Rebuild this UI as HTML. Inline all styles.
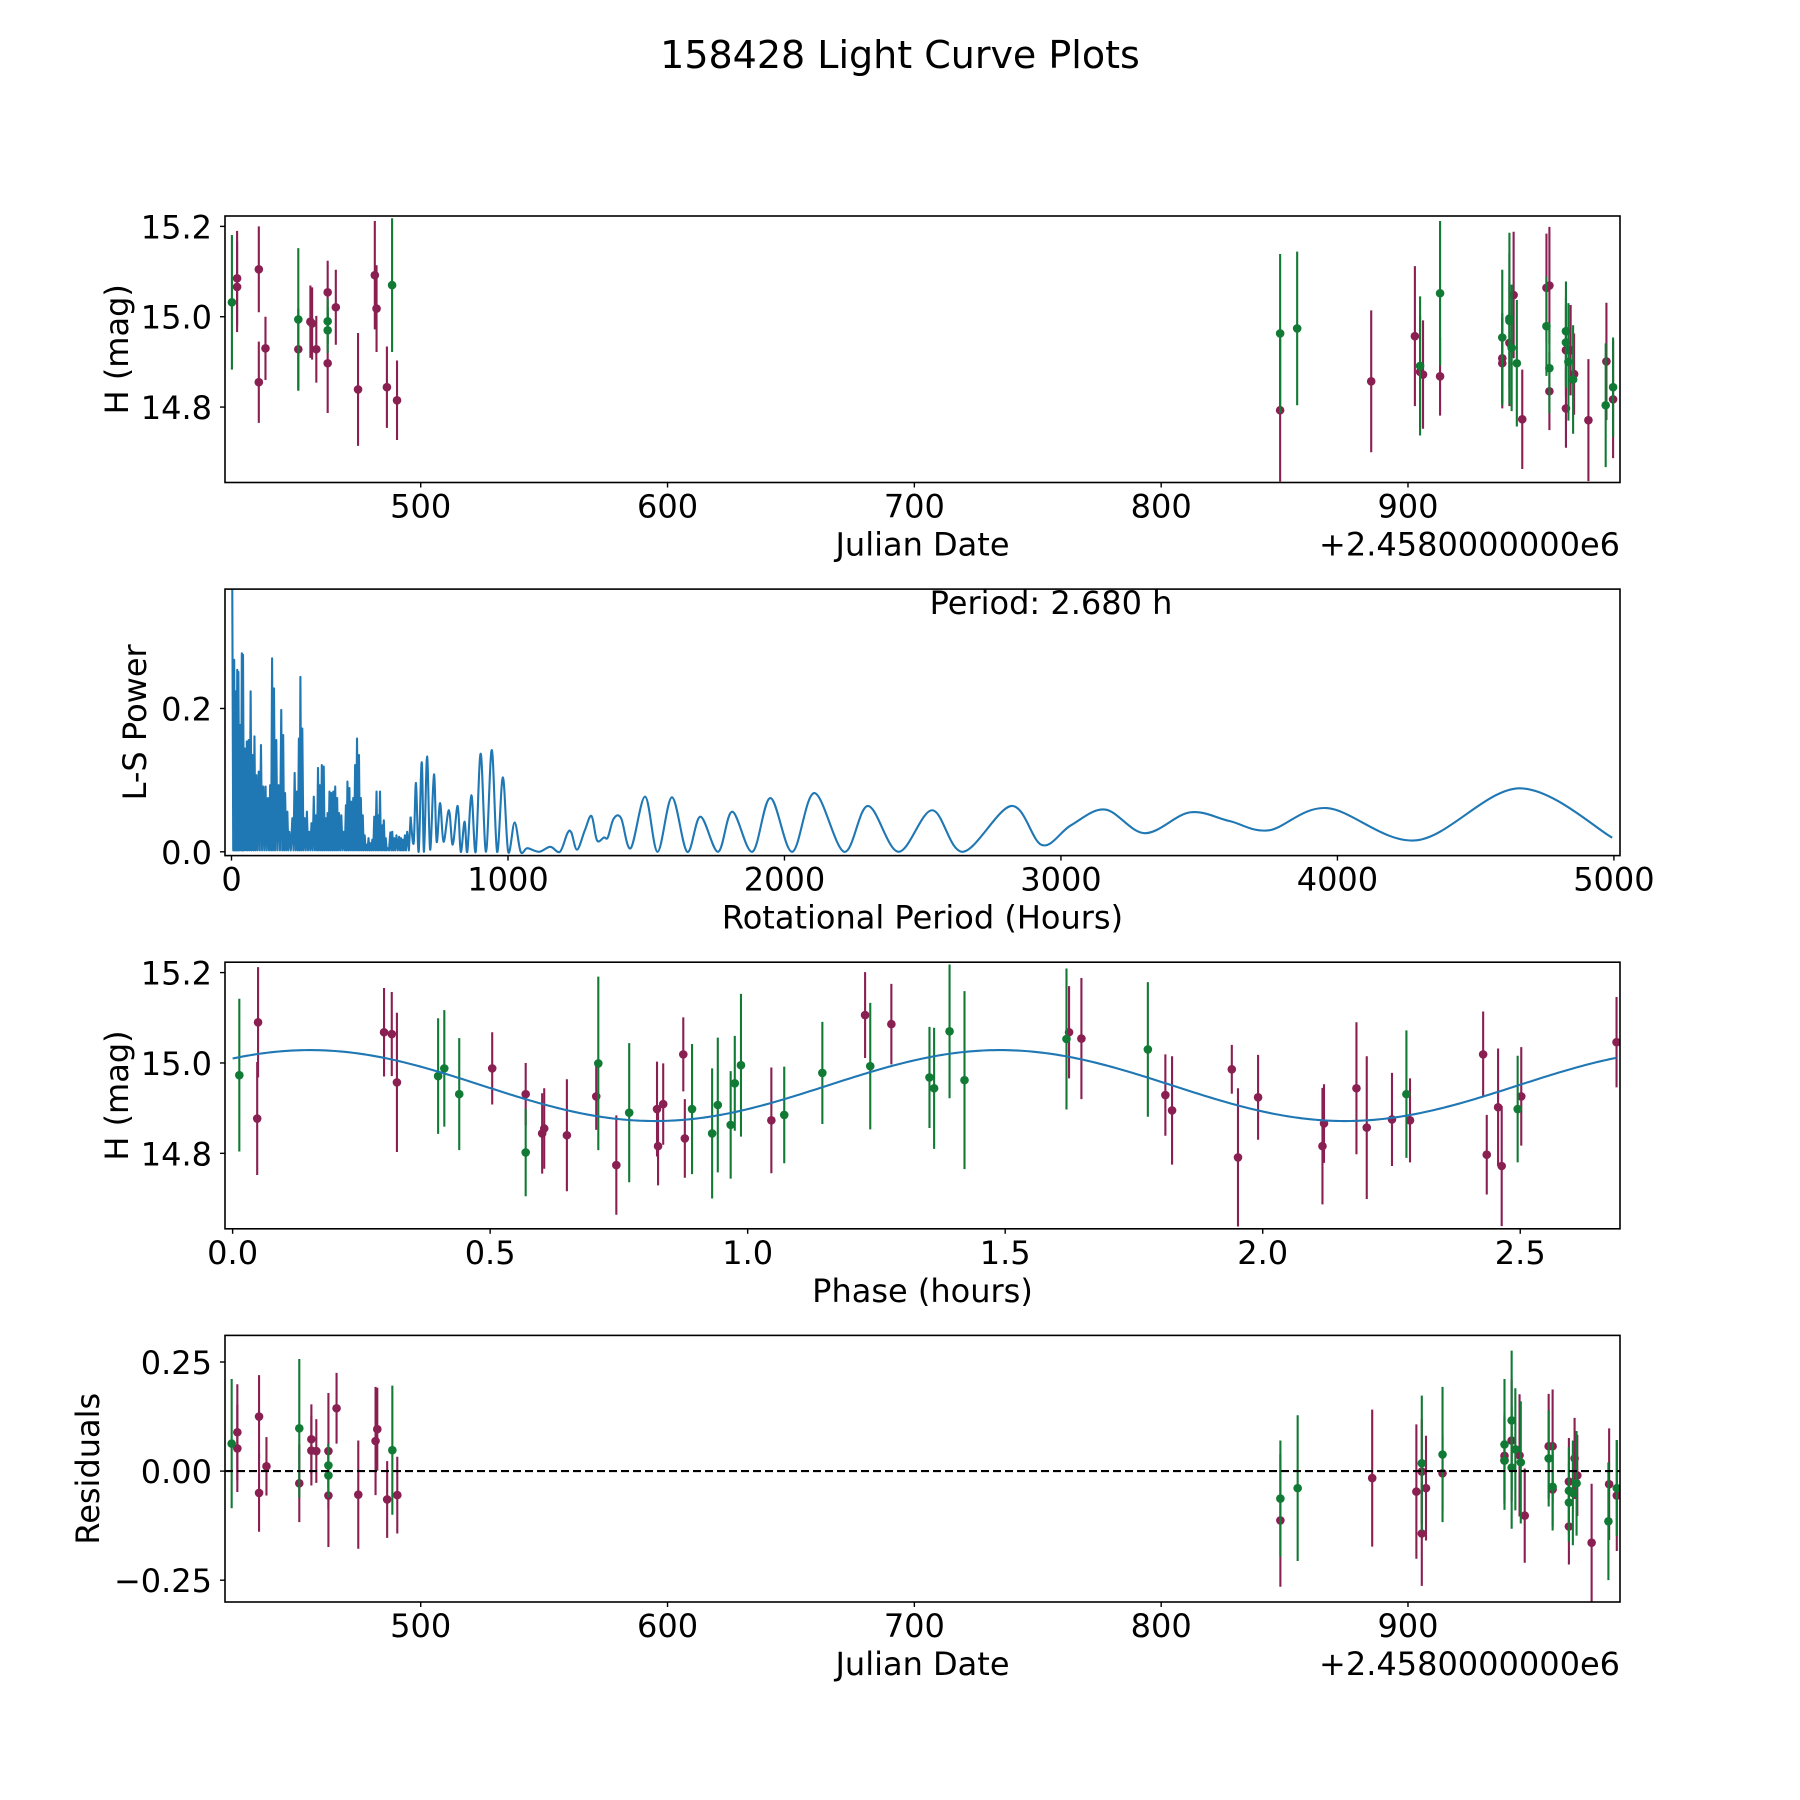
<!DOCTYPE html>
<html><head><meta charset="utf-8"><title>158428 Light Curve Plots</title>
<style>
html,body{margin:0;padding:0;background:#fff;}
svg{display:block;font-family:"DejaVu Sans","Liberation Sans",sans-serif;}
</style></head>
<body>
<svg id="fig" width="1800" height="1800" viewBox="0 0 1800 1800" xmlns="http://www.w3.org/2000/svg">
<rect width="1800" height="1800" fill="#fff"/>
<text x="900" y="68" font-size="38" text-anchor="middle">158428 Light Curve Plots</text>
</svg>
<script>
// ---------- Panel 1: light curve ----------
const lcDays = [423.5,425.6,425.6,434.4,434.4,437.1,450.4,450.4,455.3,456.0,457.7,462.3,462.3,462.3,462.3,465.6,474.6,481.4,482.1,486.3,488.4,490.4,
848.2,848.2,855.1,885.1,902.8,904.9,904.9,906.1,913.0,913.0,938.2,938.2,938.2,941.1,941.1,941.1,942.8,942.0,944.1,946.3,956.1,957.3,956.1,957.3,957.3,
964.0,964.0,964.0,964.0,965.9,965.0,967.3,966.9,973.1,980.4,980.1,983.1,983.1];
const lcMags = [15.032,15.085,15.066,15.105,14.855,14.93,14.994,14.928,14.989,14.985,14.928,15.054,14.99,14.97,14.897,15.021,14.839,15.092,15.018,14.844,15.07,14.815,
14.963,14.793,14.974,14.857,14.957,14.891,14.878,14.872,15.052,14.868,14.954,14.908,14.897,14.996,14.991,14.942,15.048,14.931,14.897,14.773,15.064,15.069,14.979,14.886,14.835,
14.968,14.943,14.926,14.797,14.926,14.9,14.873,14.861,14.771,14.901,14.804,14.844,14.817];
const lcErrs = [0.149,0.105,0.10,0.095,0.09,0.07,0.158,0.09,0.08,0.08,0.074,0.07,0.05,0.05,0.11,0.083,0.125,0.12,0.096,0.09,0.148,0.088,
0.176,0.158,0.17,0.157,0.155,0.154,0.125,0.12,0.16,0.087,0.15,0.1,0.1,0.19,0.15,0.14,0.14,0.14,0.14,0.11,0.12,0.13,0.11,0.1,0.086,
0.11,0.1,0.1,0.087,0.1,0.13,0.09,0.12,0.135,0.13,0.137,0.11,0.13];
const lcBands = "gmmmmmgmmmmmggmmmmmmgm"+"gmgmmgmmgmgmmggmmggmmmggmggmmmgmgmmggm";

// ---------- Panel 2: periodogram ----------
const densePeriods = [2.8,9.7,13.9,20.8,24.9,31.9,37.4,41.6,48.5,55.4,62.3,69.2,76.2,83.1,90.0,98.3,106.6,114.9,123.2,131.5,139.8,146.8,153.7,162.0,170.3,180.0,186.9,193.8,202.1,209.0,220.1,228.4,236.7,243.7,249.2,256.1,264.4,272.7,281.0,289.3,297.6,306.0,312.9,319.8,326.7,333.6,340.5,347.5,354.4,361.3,368.2,375.1,382.1,389.0,397.3,405.6,413.9,419.4,426.4,433.3,440.2,447.1,454.0,461.0,467.9,474.8,481.7,488.6,495.6,502.5,509.4,516.3,524.6,530.2,537.1,544.0,550.9,557.9,564.8,574.5,581.4,588.3,596.6,606.3,613.2,620.2,627.1,635.4];
const densePowers = [0.37,0.268,0.224,0.254,0.251,0.177,0.277,0.275,0.144,0.154,0.156,0.224,0.135,0.161,0.107,0.112,0.149,0.091,0.091,0.075,0.093,0.270,0.228,0.156,0.093,0.198,0.163,0.082,0.056,0.028,0.047,0.110,0.084,0.158,0.244,0.172,0.047,0.056,0.028,0.040,0.077,0.051,0.117,0.093,0.121,0.119,0.047,0.054,0.084,0.082,0.084,0.091,0.075,0.054,0.051,0.028,0.065,0.098,0.089,0.070,0.075,0.121,0.158,0.135,0.075,0.051,0.023,0.010,0.019,0.012,0.017,0.049,0.084,0.051,0.084,0.037,0.044,0.019,0.005,0.027,0.028,0.019,0.023,0.021,0.019,0.017,0.023,0.028];
const smoothPeriods = [647.8,658.9,667.2,676.9,688.0,696.3,707.4,718.4,732.3,742.0,754.4,766.9,786.3,800.1,818.1,829.2,843.0,852.7,867.9,883.2,901.2,920.5,941.3,960.7,981.4,1000.8,1024,1046,1070,1112,1153,1188,1215,1229,1250,1278,1302,1322,1347,1361,1382,1409,1444,1496,1541,1593,1648,1696,1760,1811,1884,1949,2028,2108,2216,2302,2412,2534,2645,2821,2931,3036,3160,3303,3466,3609,3752,3962,4286,4658,4994];
const smoothPowers = [0.049,0.012,0.096,0.0,0.125,0.0,0.133,0.003,0.108,0.014,0.068,0.014,0.058,0.010,0.064,0.0,0.042,0.0,0.079,0.0,0.137,0.0,0.142,0.0,0.104,0.0,0.041,0.0,0.005,0.0,0.007,0.0,0.026,0.027,0.003,0.030,0.050,0.016,0.020,0.020,0.046,0.047,0.005,0.077,0.0,0.076,0.0,0.049,0.0,0.056,0.0,0.075,0.0,0.082,0.0,0.064,0.0,0.058,0.0,0.064,0.0095,0.037,0.059,0.026,0.055,0.043,0.030,0.061,0.016,0.0886,0.0197];
const DENSE_FLOOR = 0.002;

// ---------- Panel 3: phased ----------
const phPhases = [0.013,0.0494,0.0477,0.294,0.309,0.319,0.399,0.411,0.440,0.504,0.569,0.569,0.601,0.605,0.649,0.706,0.710,0.745,0.770,0.824,0.826,0.836,0.875,0.878,0.892,0.931,0.942,0.967,0.975,0.987,1.046,1.071,1.145,1.228,1.238,1.279,
1.353,1.362,1.392,1.421,1.619,1.624,1.648,1.777,1.811,1.824,1.940,1.952,1.991,2.116,2.119,2.182,2.202,2.251,2.279,2.286,2.428,2.435,2.457,2.464,2.495,2.502,2.687];
const phMags = [14.973,15.090,14.877,15.068,15.064,14.957,14.971,14.988,14.931,14.988,14.931,14.802,14.844,14.855,14.840,14.926,14.999,14.774,14.890,14.898,14.816,14.909,15.019,14.833,14.898,14.844,14.907,14.863,14.955,14.995,14.873,14.885,14.978,15.106,14.993,15.086,
14.968,14.944,15.070,14.962,15.053,15.068,15.054,15.030,14.929,14.895,14.986,14.791,14.924,14.816,14.866,14.944,14.857,14.875,14.931,14.873,15.019,14.797,14.902,14.772,14.898,14.926,15.046];
const phErrs = [0.169,0.122,0.125,0.098,0.093,0.154,0.128,0.129,0.124,0.080,0.069,0.097,0.089,0.089,0.124,0.074,0.192,0.11,0.154,0.105,0.087,0.09,0.082,0.087,0.144,0.144,0.149,0.119,0.105,0.158,0.117,0.107,0.113,0.095,0.14,0.089,
0.112,0.134,0.148,0.197,0.156,0.102,0.134,0.149,0.09,0.12,0.054,0.153,0.094,0.129,0.087,0.146,0.158,0.103,0.141,0.093,0.095,0.088,0.13,0.133,0.118,0.109,0.1];
const phBands = "gmmmmmgggmmgmmmmgmgmmmmmggggggmggmgm"+"gggggmmgmmmmmmmmmmgmmmmmgmm";
const modelMean = 14.950, modelAmp = 0.0785, modelPeak = 0.15, modelCycle = 1.34;

// ---------- Panel 4: residuals ----------
const resDays = [423.4,425.7,425.7,434.5,434.5,437.5,450.8,450.8,455.7,455.7,457.7,462.6,462.6,462.6,462.6,465.9,474.7,481.7,482.4,488.5,486.4,490.5,
848.3,848.3,855.3,885.5,903.4,905.6,905.6,907.3,905.6,914.0,914.0,939.1,939.1,939.1,939.1,942.0,942.0,942.0,943.5,945.2,945.7,947.3,957.0,958.6,957.0,958.6,958.6,
965.2,965.2,965.2,965.2,966.8,967.5,968.6,968.3,974.4,981.5,981.2,984.6,984.6];
const resVals = [0.063,0.089,0.052,0.125,-0.050,0.011,0.098,-0.028,0.073,0.047,0.046,0.046,0.013,-0.010,-0.056,0.144,-0.054,0.069,0.096,0.048,-0.065,-0.055,
-0.063,-0.113,-0.039,-0.016,-0.047,0.018,-0.001,-0.039,-0.143,0.038,-0.005,0.061,0.035,0.025,0.024,0.116,0.070,0.008,0.050,0.036,0.020,-0.102,0.057,0.057,0.029,-0.036,-0.042,
-0.024,-0.045,-0.072,-0.127,-0.050,0.029,-0.010,-0.028,-0.164,-0.030,-0.115,-0.039,-0.056];
const resErrs = [0.148,0.11,0.10,0.095,0.089,0.067,0.159,0.089,0.08,0.08,0.073,0.133,0.05,0.05,0.118,0.081,0.124,0.124,0.095,0.148,0.088,0.088,
0.133,0.152,0.167,0.157,0.154,0.155,0.12,0.12,0.12,0.155,0.087,0.15,0.1,0.1,0.1,0.16,0.14,0.14,0.14,0.14,0.14,0.108,0.12,0.13,0.11,0.1,0.085,
0.1,0.1,0.09,0.087,0.12,0.093,0.093,0.12,0.135,0.128,0.135,0.11,0.127];
const resBands = "gmmmmmgmmmmmggmmmmmgmm"+"gmgmmgmmmgmgmmggmggmgmmmggmmggmgmmgmmggm";

// ---------- figure helpers ----------
const NS = "http://www.w3.org/2000/svg";
const fig = document.getElementById("fig");
const MAROON = "#8a1f52", GREEN = "#117a35", BLUE = "#1f77b4";
function el(tag, attrs, parent) {
  const e = document.createElementNS(NS, tag);
  for (const k in attrs) e.setAttribute(k, attrs[k]);
  (parent || fig).appendChild(e);
  return e;
}
const L = 225, R = 1620;
function makeAxes(id, top, bottom, xmin, xmax, ymin, ymax) {
  const g = el("g", {});
  
  
  const cp = el("clipPath", {id: id + "-clip"}, g);
  el("rect", {x: L, y: top, width: R - L, height: bottom - top}, cp);
  const plot = el("g", {"clip-path": "url(#" + id + "-clip)"}, g);
  
  
  return {g, plot, top, bottom,
    sx: v => L + (v - xmin) / (xmax - xmin) * (R - L),
    sy: v => bottom - (v - ymin) / (ymax - ymin) * (bottom - top)};
}
function frame(ax) {
  const f = el("rect", {x: L, y: ax.top, width: R - L, height: ax.bottom - ax.top, fill: "none", stroke: "#000", "stroke-width": 1.6}, ax.g);
  
  
}
function xTicks(ax, vals, labels, name) {
  vals.forEach((v, i) => {
    const x = ax.sx(v);
    const t = el("line", {x1: x, x2: x, y1: ax.bottom, y2: ax.bottom + 5, stroke: "#000", "stroke-width": 1.4}, ax.g);
    
    
    const tx = el("text", {x: x, y: ax.bottom + 35, "font-size": 32, "text-anchor": "middle"}, ax.g);
    tx.textContent = labels[i];
    
    
  });
}
function yTicks(ax, vals, labels, name) {
  vals.forEach((v, i) => {
    const y = ax.sy(v);
    const t = el("line", {x1: L - 5, x2: L, y1: y, y2: y, stroke: "#000", "stroke-width": 1.4}, ax.g);
    
    
    const tx = el("text", {x: L - 13, y: y + 12, "font-size": 32, "text-anchor": "end"}, ax.g);
    tx.textContent = labels[i];
    
    
  });
}
function xLabel(ax, text, name) {
  const t = el("text", {x: (L + R) / 2, y: ax.bottom + 73, "font-size": 32, "text-anchor": "middle"}, ax.g);
  t.textContent = text;
  
  
}
function yLabel(ax, text, xBase, name) {
  const cy = (ax.top + ax.bottom) / 2;
  const t = el("text", {x: xBase, y: cy, "font-size": 32, "text-anchor": "middle", transform: "rotate(-90 " + xBase + " " + cy + ")"}, ax.g);
  t.textContent = text;
  
  
}
function offsetText(ax, name) {
  const t = el("text", {x: R, y: ax.bottom + 73, "font-size": 32, "text-anchor": "end"}, ax.g);
  t.textContent = "+2.4580000000e6";
  
  
}
function errorPoints(ax, xs, ys, es, bands, name) {
  ["m", "g"].forEach(b => {
    for (let i = 0; i < xs.length; i++) {
      if (bands[i] !== b) continue;
      const c = b === "g" ? GREEN : MAROON;
      const x = ax.sx(xs[i]);
      const bar = el("line", {x1: x, x2: x, y1: ax.sy(ys[i] - es[i]), y2: ax.sy(ys[i] + es[i]), stroke: c, "stroke-width": 2.1}, ax.plot);
      
      
      const dot = el("circle", {cx: x, cy: ax.sy(ys[i]), r: 4.3, fill: c}, ax.plot);
      
      
    }
  });
}
function catmull(pts) {
  let d = "M" + pts[0][0].toFixed(2) + "," + pts[0][1].toFixed(2);
  for (let i = 0; i < pts.length - 1; i++) {
    const p0 = pts[Math.max(0, i - 1)], p1 = pts[i], p2 = pts[i + 1], p3 = pts[Math.min(pts.length - 1, i + 2)];
    const c1x = p1[0] + (p2[0] - p0[0]) / 6, c1y = p1[1] + (p2[1] - p0[1]) / 6;
    const c2x = p2[0] - (p3[0] - p1[0]) / 6, c2y = p2[1] - (p3[1] - p1[1]) / 6;
    d += "C" + c1x.toFixed(2) + "," + c1y.toFixed(2) + " " + c2x.toFixed(2) + "," + c2y.toFixed(2) + " " + p2[0].toFixed(2) + "," + p2[1].toFixed(2);
  }
  return d;
}

// ---------- Panel 1 ----------
const ax1 = makeAxes("lightcurve", 216, 482.5, 420.7, 985.9, 14.633, 15.223);
errorPoints(ax1, lcDays, lcMags, lcErrs, lcBands, "lightcurve");
frame(ax1);
xTicks(ax1, [500, 600, 700, 800, 900], ["500", "600", "700", "800", "900"], "lightcurve-x");
yTicks(ax1, [14.8, 15.0, 15.2], ["14.8", "15.0", "15.2"], "lightcurve-y");
xLabel(ax1, "Julian Date", "lightcurve-x-axis-title");
offsetText(ax1, "lightcurve-x-offset");
yLabel(ax1, "H (mag)", 128, "lightcurve-y-axis-title");

// ---------- Panel 2 ----------
const ax2 = makeAxes("periodogram", 589.1, 855.6, -23.5, 5022, -0.0053, 0.3666);
let dd = "";
for (let i = 0; i < densePeriods.length; i++) {
  const x = ax2.sx(densePeriods[i]);
  dd += (i === 0 ? "M" : "L") + x.toFixed(2) + "," + ax2.sy(densePowers[i]).toFixed(2);
  const nx = i + 1 < densePeriods.length ? ax2.sx(densePeriods[i + 1]) : ax2.sx(smoothPeriods[0]);
  dd += "L" + ((x + nx) / 2).toFixed(2) + "," + ax2.sy(DENSE_FLOOR).toFixed(2);
}
dd += "L" + ax2.sx(smoothPeriods[0]).toFixed(2) + "," + ax2.sy(smoothPowers[0]).toFixed(2);
const densePath = el("path", {d: dd, fill: "none", stroke: BLUE, "stroke-width": 2.1, "stroke-linejoin": "round"}, ax2.plot);


const sPts = smoothPeriods.map((p, i) => [ax2.sx(p), ax2.sy(smoothPowers[i])]);
const smoothPath = el("path", {d: catmull(sPts), fill: "none", stroke: BLUE, "stroke-width": 2.1}, ax2.plot);


frame(ax2);
xTicks(ax2, [0, 1000, 2000, 3000, 4000, 5000], ["0", "1000", "2000", "3000", "4000", "5000"], "periodogram-x");
yTicks(ax2, [0.0, 0.2], ["0.0", "0.2"], "periodogram-y");
xLabel(ax2, "Rotational Period (Hours)", "periodogram-x-axis-title");
yLabel(ax2, "L-S Power", 146, "periodogram-y-axis-title");
const ptxt = el("text", {x: 1051, y: 614, "font-size": 32, "text-anchor": "middle"}, ax2.g);
ptxt.textContent = "Period: 2.680 h";



// ---------- Panel 3 ----------
const ax3 = makeAxes("phased", 962.2, 1228.8, -0.0148, 2.6937, 14.633, 15.223);
errorPoints(ax3, phPhases, phMags, phErrs, phBands, "phased");
let md = "";
for (let k = 0; k <= 400; k++) {
  const p = 2.687 * k / 400;
  const m = modelMean + modelAmp * Math.cos(2 * Math.PI * (p - modelPeak) / modelCycle);
  md += (k ? "L" : "M") + ax3.sx(p).toFixed(2) + "," + ax3.sy(m).toFixed(2);
}
const model = el("path", {d: md, fill: "none", stroke: BLUE, "stroke-width": 2.1}, ax3.plot);


frame(ax3);
xTicks(ax3, [0, 0.5, 1.0, 1.5, 2.0, 2.5], ["0.0", "0.5", "1.0", "1.5", "2.0", "2.5"], "phased-x");
yTicks(ax3, [14.8, 15.0, 15.2], ["14.8", "15.0", "15.2"], "phased-y");
xLabel(ax3, "Phase (hours)", "phased-x-axis-title");
yLabel(ax3, "H (mag)", 128, "phased-y-axis-title");

// ---------- Panel 4 ----------
const ax4 = makeAxes("residuals", 1335.4, 1602, 420.7, 985.9, -0.300, 0.311);
errorPoints(ax4, resDays, resVals, resErrs, resBands, "residuals");
const zl = el("line", {x1: L, x2: R, y1: ax4.sy(0), y2: ax4.sy(0), stroke: "#000", "stroke-width": 2.1, "stroke-dasharray": "8,4"}, ax4.plot);


frame(ax4);
xTicks(ax4, [500, 600, 700, 800, 900], ["500", "600", "700", "800", "900"], "residuals-x");
yTicks(ax4, [0.25, 0.0, -0.25], ["0.25", "0.00", "\u22120.25"], "residuals-y");
xLabel(ax4, "Julian Date", "residuals-x-axis-title");
offsetText(ax4, "residuals-x-offset");
yLabel(ax4, "Residuals", 99, "residuals-y-axis-title");
</script>
</body></html>
